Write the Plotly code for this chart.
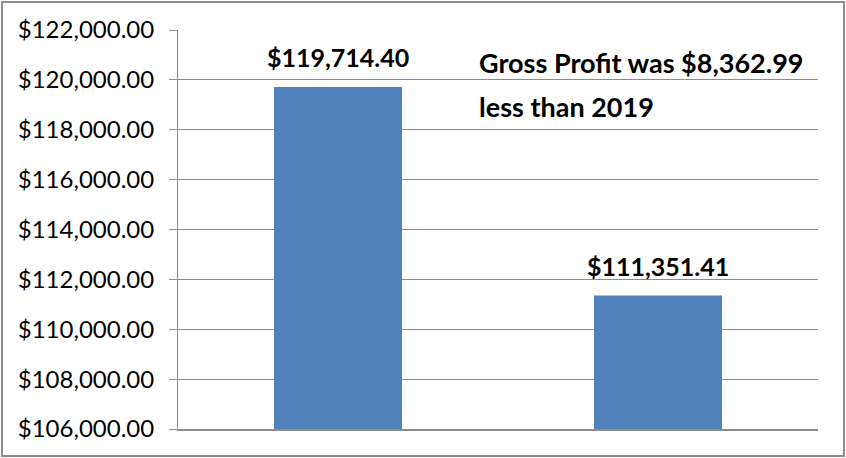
import plotly.graph_objects as go

# data
years = ["FY 2019", "FY 2020"]
gross_profit = [119714.40, 111351.41]
bar_labels = ["$119,714.40", "$111,351.41"]
note_lines = ["Gross Profit was $8,362.99", "less than 2019"]
y_ticks = [106000, 108000, 110000, 112000, 114000, 116000, 118000, 120000, 122000]

FONT = "Lato, Liberation Sans, sans-serif"
GRID = "#8c8c8c"

fig = go.Figure(go.Bar(
    x=years,
    y=gross_profit,
    marker=dict(color="#4F81BD", line=dict(width=0)),
    hoverinfo="skip",
))

fig.update_layout(
    width=846, height=458,
    margin=dict(l=178, r=28, t=30, b=29),
    plot_bgcolor="white", paper_bgcolor="white",
    bargap=0.6,
    showlegend=False,
    font=dict(family=FONT, color="black"),
)

fig.update_yaxes(
    range=[106000, 122000],
    tickvals=y_ticks,
    ticktext=[f"${v:,.2f}" for v in y_ticks],
    tickfont=dict(size=24),
    ticklabelstandoff=10,
    showgrid=True, gridcolor=GRID, gridwidth=1,
    showline=True, linecolor=GRID, linewidth=1,
    ticks="outside", ticklen=8, tickcolor=GRID,
    zeroline=False,
)
fig.update_xaxes(
    type="category",
    showticklabels=False,
    showline=True, linecolor=GRID, linewidth=2,
    ticks="",
)

# value labels above the bars
for yr, val, lab in zip(years, gross_profit, bar_labels):
    fig.add_annotation(
        text=lab, x=yr, y=val, xref="x", yref="y",
        yanchor="bottom", yshift=13, showarrow=False,
        font=dict(family=FONT, size=25, color="black", weight="bold"),
    )

# note text, two lines spaced like the original
for i, line in enumerate(note_lines):
    fig.add_annotation(
        text=line, xref="paper", yref="paper",
        x=(477 - 178) / 640, y=(429 - 62) / 399 - i * 45 / 399,
        xanchor="left", yanchor="middle", showarrow=False,
        font=dict(family=FONT, size=27, color="black", weight="bold"),
    )

# outer chart border
fig.add_shape(
    type="rect", xref="paper", yref="paper",
    x0=(2 - 178) / 640, x1=(844 - 178) / 640,
    y0=(429 - 456) / 399, y1=(429 - 2) / 399,
    line=dict(color="#8c8c8c", width=2), fillcolor="rgba(0,0,0,0)",
    layer="below",
)

fig.write_html("out.html", config={"displayModeBar": False},
               post_script="document.body.style.margin='0';")
